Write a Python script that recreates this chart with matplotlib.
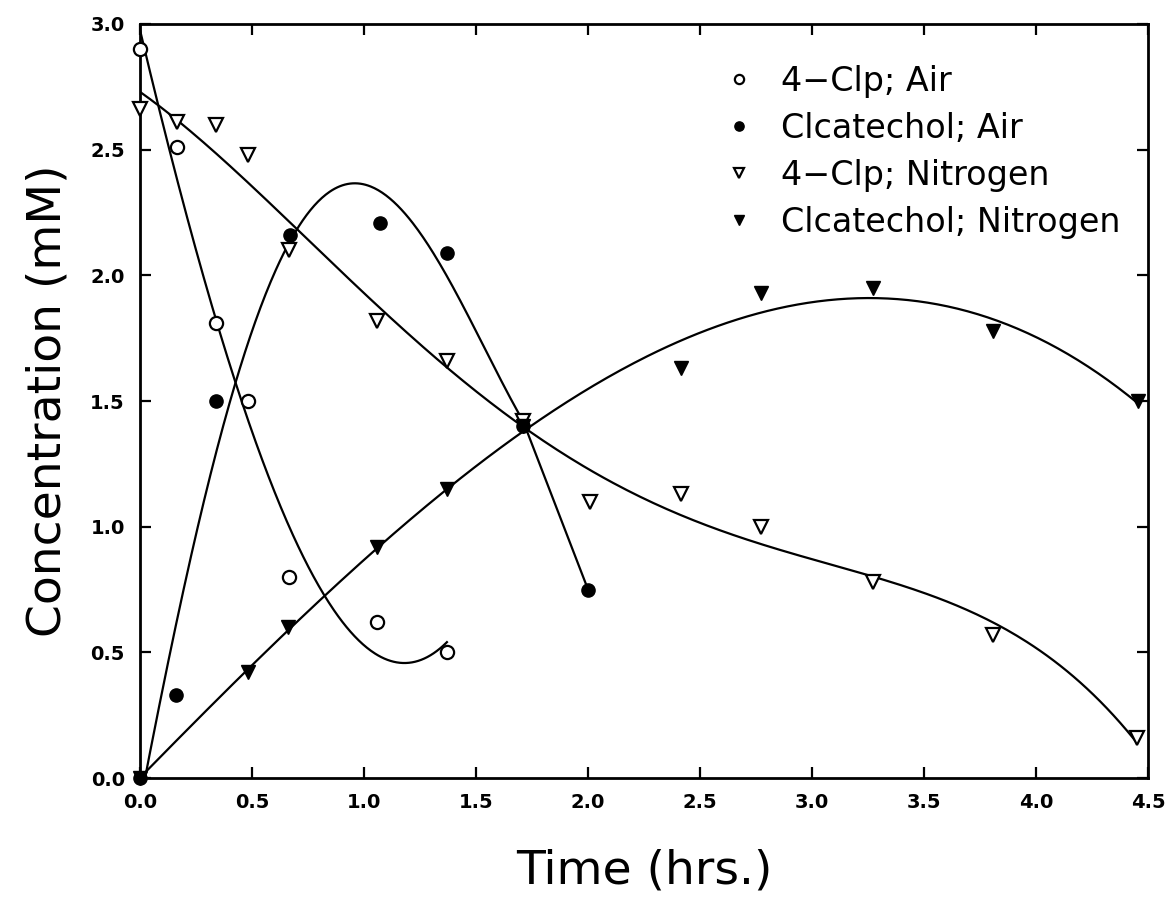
import numpy as np
import matplotlib
matplotlib.use("Agg")
import matplotlib.pyplot as plt

# ---- data ----
t_clp_air = [0.0, 0.165, 0.34, 0.48, 0.665, 1.06, 1.37]
c_clp_air = [2.90, 2.51, 1.81, 1.50, 0.80, 0.62, 0.50]

t_cat_air = [0.0, 0.16, 0.34, 0.67, 1.07, 1.37, 1.71, 2.0]
c_cat_air = [0.0, 0.33, 1.50, 2.16, 2.21, 2.09, 1.40, 0.75]

t_clp_n2 = [0.0, 0.165, 0.34, 0.48, 0.665, 1.06, 1.37, 1.71, 2.01, 2.415, 2.77, 3.27, 3.81, 4.45]
c_clp_n2 = [2.66, 2.61, 2.60, 2.48, 2.10, 1.82, 1.66, 1.42, 1.10, 1.13, 1.00, 0.78, 0.57, 0.16]

t_cat_n2 = [0.0, 0.48, 0.66, 1.06, 1.37, 1.71, 2.415, 2.77, 3.27, 3.81, 4.455]
c_cat_n2 = [0.0, 0.42, 0.60, 0.92, 1.15, 1.40, 1.63, 1.93, 1.95, 1.78, 1.50]

labels = ["4\u2212Clp; Air", "Clcatechol; Air", "4\u2212Clp; Nitrogen", "Clcatechol; Nitrogen"]
xticks = [0.0, 0.5, 1.0, 1.5, 2.0, 2.5, 3.0, 3.5, 4.0, 4.5]
yticks = [0.0, 0.5, 1.0, 1.5, 2.0, 2.5, 3.0]

plt.rcParams['font.family'] = ['DejaVu Sans']

fig = plt.figure(figsize=(11.68, 9.09), dpi=100)
ax = fig.add_axes([0.1199, 0.1441, 0.8630, 0.8295])

def fit_curve(t, c, deg):
    p = np.polyfit(t, c, deg)
    xs = np.linspace(min(t), max(t), 300)
    return xs, np.polyval(p, xs)

lw = 1.6
# 4-Clp; Air
xs, ys = fit_curve(t_clp_air, c_clp_air, 3)
ax.plot(xs, ys, color='black', lw=lw)
# Clcatechol; Air : smooth fit up to 1.7 h, then straight segment
xs, ys = fit_curve(t_cat_air[:-1], c_cat_air[:-1], 4)
ax.plot(xs, ys, color='black', lw=lw)
ax.plot([t_cat_air[-2], t_cat_air[-1]], [ys[-1], c_cat_air[-1]], color='black', lw=lw)
# 4-Clp; Nitrogen
xs, ys = fit_curve(t_clp_n2, c_clp_n2, 4)
ax.plot(xs, ys, color='black', lw=lw)
# Clcatechol; Nitrogen
xs, ys = fit_curve(t_cat_n2, c_cat_n2, 3)
ax.plot(xs, ys, color='black', lw=lw)

ms = 9.5
h1, = ax.plot(t_clp_air, c_clp_air, 'o', ms=ms, mfc='white', mec='black', mew=1.6, ls='none', clip_on=False, zorder=5)
h2, = ax.plot(t_cat_air, c_cat_air, 'o', ms=ms, mfc='black', mec='black', ls='none', clip_on=False, zorder=5)
h3, = ax.plot(t_clp_n2, c_clp_n2, 'v', ms=ms, mfc='white', mec='black', mew=1.6, ls='none', clip_on=False, zorder=5)
h4, = ax.plot(t_cat_n2, c_cat_n2, 'v', ms=ms, mfc='black', mec='black', ls='none', clip_on=False, zorder=5)

ax.set_xlim(0, 4.5)
ax.set_ylim(0, 3.0)
ax.set_xticks(xticks)
ax.set_yticks(yticks)
ax.set_xticklabels([f"{v:.1f}" for v in xticks])
ax.set_yticklabels([f"{v:.1f}" for v in yticks])
ax.tick_params(direction='in', length=8, width=1.6, top=True, right=True,
               labelsize=14, pad=11)
for lab in ax.get_xticklabels() + ax.get_yticklabels():
    lab.set_fontweight('bold')
for s in ax.spines.values():
    s.set_linewidth(2.0)

ax.set_xlabel("Time (hrs.)", fontsize=34, labelpad=26)
ax.set_ylabel("Concentration (mM)", fontsize=34, labelpad=14)

leg = ax.legend([h1, h2, h3, h4], labels, loc='upper left',
                bbox_to_anchor=(0.578, 0.946), frameon=False, fontsize=24,
                markerscale=0.7, handlelength=1.0, handletextpad=0.75,
                labelspacing=0.42, borderaxespad=0, borderpad=0)

fig.savefig("out.png", dpi=100)
